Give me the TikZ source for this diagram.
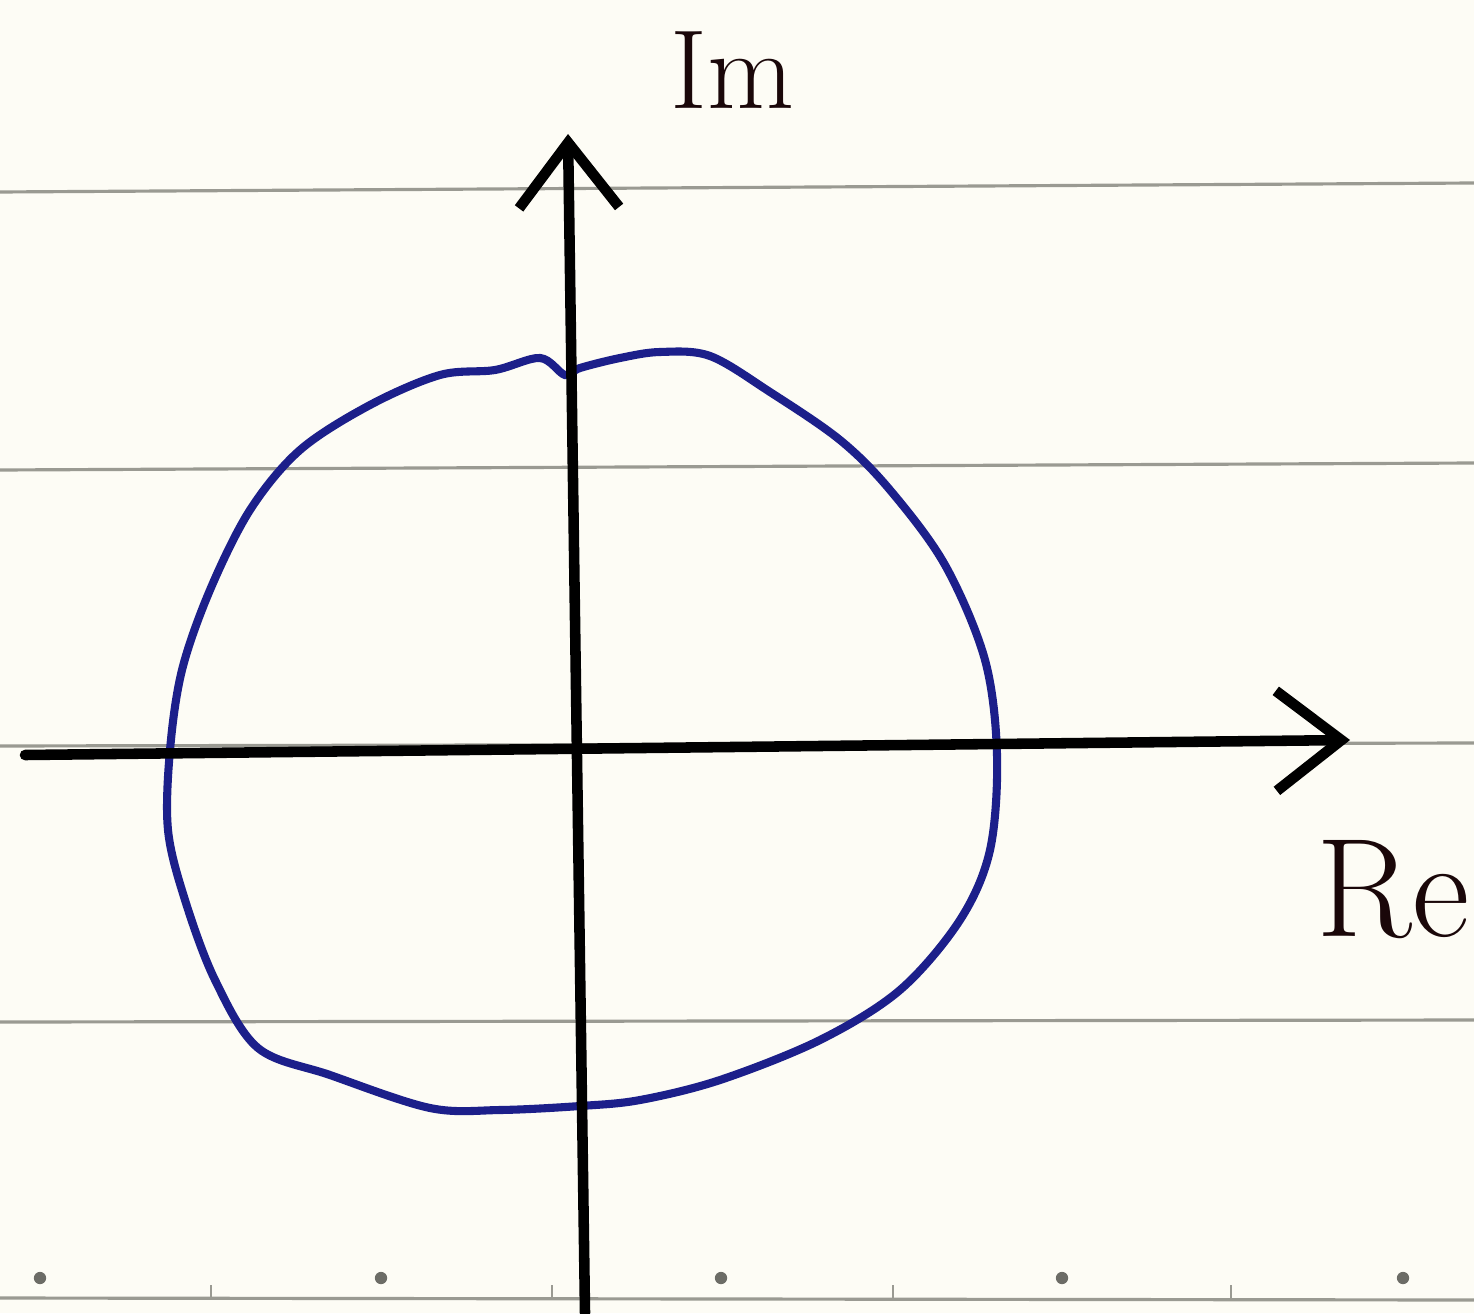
\documentclass[tikz,border=0pt]{standalone}
\usepackage{xcolor}
\definecolor{paper}{HTML}{FDFCF5}
\definecolor{ruleline}{HTML}{9A9A92}
\definecolor{penblue}{HTML}{1C1F8A}
\definecolor{peninkk}{HTML}{1A0709}
\usepackage{tikz}
\usetikzlibrary{arrows.meta,positioning}

\begin{document}
\begin{tikzpicture}[
  x=0.01cm,y=-0.01cm,
  ruled/.style={draw=ruleline,line width=0.9pt},
  axis/.style={draw=black,line width=3pt,line cap=round,
               -{Straight Barb[length=6.5mm,width=10mm,line width=3pt]}},
  contour/.style={draw=penblue,line width=2.3pt},
  axlabel/.style={text=peninkk,inner sep=0pt,font=\fontsize{32}{32}\selectfont},
  dot/.style={fill=ruleline!70!black,circle,inner sep=0pt,minimum size=3.5pt}
]

% paper
\fill[paper] (0,0) rectangle (1474,1313);
\useasboundingbox (0,0) rectangle (1474,1313);

% ruled lines
\draw[ruled] (0,192) -- (1474,183);
\draw[ruled] (0,470) -- (1474,463);
\draw[ruled] (0,746) -- (1474,743);
\draw[ruled] (0,1022) -- (1474,1020);
\draw[ruled] (0,1298) -- (1474,1300);
\foreach \xd in {40,381,721,1062,1403}
  \node[dot] at (\xd,1278) {};
\foreach \xt in {211,552,893,1231}
  \draw[ruleline,line width=0.8pt] (\xt,1285) -- (\xt,1300);

% contour
\draw[contour] plot[smooth cycle,tension=0.55] coordinates {
  (580,368) (620,358) (660,352) (710,356) (770,392) (840,440)
  (890,490) (945,565) (985,660) (997,755) (990,850) (960,920)
  (900,990) (820,1040) (720,1080) (640,1100) (580,1106) (500,1110)
  (430,1108) (330,1075) (258,1048) (215,980) (185,900) (168,830)
  (170,750) (182,670) (210,590) (250,510) (300,450) (370,405)
  (440,375) (495,370) (540,358) (565,375)};

% axes
\coordinate (reL) at (25,755);
\coordinate (reR) at (1350,740);
\coordinate (imB) at (585,1313);
\coordinate (imT) at (568,134);
\draw[axis] (reL) -- (reR);
\draw[axis] (imB) -- (imT);

% labels
\node[axlabel] (imlab) at (732,70) {Im};
\node[axlabel,font=\fontsize{40}{40}\selectfont] (relab) at (1393,890) {Re};

\end{tikzpicture}
\end{document}
